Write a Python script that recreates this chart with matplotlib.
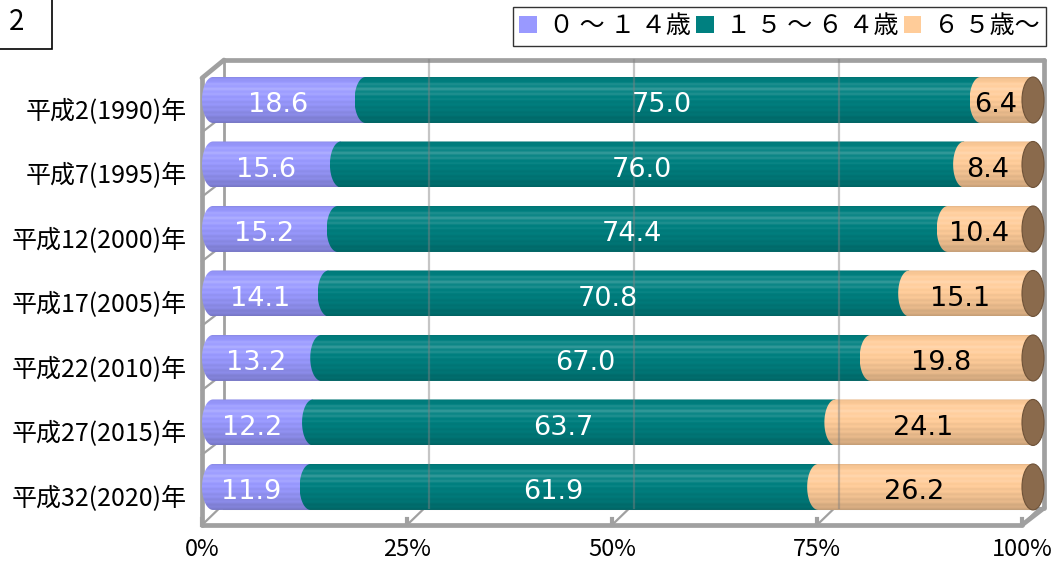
#!/usr/bin/env python3
import numpy as np
from matplotlib import pyplot as plt
from matplotlib.patches import Patch, PathPatch, Ellipse, Rectangle
from matplotlib.path import Path

plt.rcParams['font.family'] = ['Noto Sans CJK JP', 'DejaVu Sans']

# data
years = ['平成2(1990)年', '平成7(1995)年', '平成12(2000)年', '平成17(2005)年',
         '平成22(2010)年', '平成27(2015)年', '平成32(2020)年']
age_0_14 = [18.6, 15.6, 15.2, 14.1, 13.2, 12.2, 11.9]
age_15_64 = [75.0, 76.0, 74.4, 70.8, 67.0, 63.7, 61.9]
age_65 = [6.4, 8.4, 10.4, 15.1, 19.8, 24.1, 26.2]
series_names = ['０ ～ １ ４歳', '１ ５ ～ ６ ４歳', '６ ５歳～']
series_colors = ['#9999FF', '#008080', '#FFCC99']
label_colors = ['white', 'white', 'black']
ticks = [0, 25, 50, 75, 100]

W, H = 1054, 563
fig = plt.figure(figsize=(W / 100, H / 100), dpi=100)
# plot area = front face of the 3d box
ax = fig.add_axes([202 / W, 1 - 525 / H, 820 / W, 465 / H])
for s in ax.spines.values():
    s.set_visible(False)

px_x = 820 / 100.0   # pixels per x unit
px_y = 64.5          # pixels per row
dx, dy = 22 / px_x, -17 / px_y   # depth of the box
bar_dx = 11 / px_x               # bars sit half way in
bar_h = 46 / px_y
ew = 11 / px_x                   # half width of the end ellipses

frame_c = '#A0A0A0'
y_front_bot, y_front_top = 6.59, -0.34
y_back_bot, y_back_top = y_front_bot + dy, -0.62

# walls
ax.fill([dx, 100 + dx, 100 + dx, dx], [y_back_top, y_back_top, y_back_bot, y_back_bot],
        color='white', zorder=0, clip_on=False)
frame_kw = dict(color=frame_c, lw=3.4, solid_capstyle='round', clip_on=False, zorder=1)
ax.plot([0, 0], [y_front_bot, y_front_top], **frame_kw)
ax.plot([0, dx], [y_front_top, y_back_top], **frame_kw)
ax.plot([dx, 100 + dx], [y_back_top, y_back_top], **frame_kw)
ax.plot([100 + dx, 100 + dx], [y_back_top, y_back_bot], **frame_kw)
ax.plot([0, 100], [y_front_bot, y_front_bot], **frame_kw)
ax.plot([100, 100 + dx], [y_front_bot, y_back_bot], **frame_kw)
ax.plot([dx, dx], [y_back_top, y_back_bot], color=frame_c, lw=2, clip_on=False, zorder=1)
ax.plot([dx, 100 + dx], [y_back_bot, y_back_bot], color=frame_c, lw=2.2, clip_on=False, zorder=1)
for t in ticks:
    ax.plot([t, t + dx * 0.8], [y_front_bot, y_back_bot], color=frame_c, lw=1.6,
            clip_on=False, zorder=1)
    ax.plot([t, t], [y_front_bot - 0.1, y_front_bot], color=frame_c, lw=3,
            clip_on=False, zorder=1)
for i in range(len(years) - 1):
    ax.plot([0, dx * 0.8], [i + 0.5, i + 0.5 + dy * 0.8], color=frame_c, lw=1.6,
            clip_on=False, zorder=1)


def shade(color, n=60):
    rgb = np.array(plt.matplotlib.colors.to_rgb(color))
    t = np.linspace(0, 1, n)
    b = np.interp(t, [0, 0.08, 0.25, 0.5, 0.8, 1.0], [0.9, 1.0, 1.06, 0.99, 0.9, 0.8])
    b = b + 0.025 * np.sin(t * 55)
    out = []
    for v in b:
        if v >= 1:
            out.append(rgb + (1 - rgb) * (v - 1) * 2.5)
        else:
            out.append(rgb * v)
    return np.clip(np.array(out), 0, 1).reshape(n, 1, 3)


def seg_path(x0, x1, yc, h):
    th = np.linspace(np.pi / 2, 3 * np.pi / 2, 40)
    xs = list(x0 + ew * np.cos(th)) + [x1, x1]
    ys = list(yc + h / 2 * np.sin(th)) + [yc - h / 2, yc + h / 2]
    verts = list(zip(xs, ys)) + [(xs[0], ys[0])]
    codes = [Path.MOVETO] + [Path.LINETO] * (len(verts) - 2) + [Path.CLOSEPOLY]
    return Path(verts, codes)


series = [age_0_14, age_15_64, age_65]
for i in range(len(years)):
    left = 0.0
    for k, vals in enumerate(series):
        v = vals[i]
        x0, x1 = left + bar_dx, left + v + bar_dx
        patch = PathPatch(seg_path(x0, x1, i, bar_h), fc='none', ec='none', clip_on=False)
        ax.add_patch(patch)
        im = ax.imshow(shade(series_colors[k]), extent=(x0 - ew, x1, i + bar_h / 2, i - bar_h / 2),
                       aspect='auto', interpolation='bilinear', zorder=2)
        im.set_clip_path(patch)
        im.set_clip_box(fig.bbox)
        if k == len(series) - 1:
            ax.add_patch(Ellipse((x1, i), 2 * ew, bar_h, fc='#8A6A4C', ec='#6E5238',
                                 lw=0.8, zorder=2.5, clip_on=False))
        ax.text(left + v / 2, i + 0.08, f'{v:.1f}', ha='center', va='center',
                color=label_colors[k], fontsize=19.5, family='DejaVu Sans', zorder=4)
        left += v

# back grid lines show through the bars
for t in ticks[1:-1]:
    ax.plot([t + dx, t + dx], [y_back_top, y_back_bot], color='#808080', lw=1.6,
            alpha=0.45, zorder=3, clip_on=False)

ax.set_xlim(0, 100)
ax.set_ylim(6.59, -0.62)
ax.set_xticks(ticks)
ax.set_xticklabels([f'{t}%' for t in ticks], fontsize=17)
ax.set_yticks(np.arange(len(years)) + 0.14)
ax.set_yticklabels(years, fontsize=18)
ax.tick_params(axis='x', length=0, pad=9)
ax.tick_params(axis='y', length=0, pad=11)

# legend
handles = [Patch(fc=c, ec='none') for c in series_colors]
fig.legend(handles, series_names, loc='upper left', bbox_to_anchor=(513 / W, 1 - 7 / H),
           ncol=3, fontsize=18, frameon=True, fancybox=False, edgecolor='black',
           handlelength=0.7, handleheight=0.7, handletextpad=0.5, columnspacing=0.2,
           borderpad=0.25, borderaxespad=0)

# box with the figure number in the corner
fig.patches.append(Rectangle((-0.01, 1 - 49 / H), 52 / W + 0.01, 49 / H + 0.01,
                             transform=fig.transFigure, fc='white', ec='black', lw=1.2))
fig.text(17 / W, 1 - 22 / H, '2', fontsize=20, ha='center', va='center')

fig.savefig('out.png', dpi=100)
